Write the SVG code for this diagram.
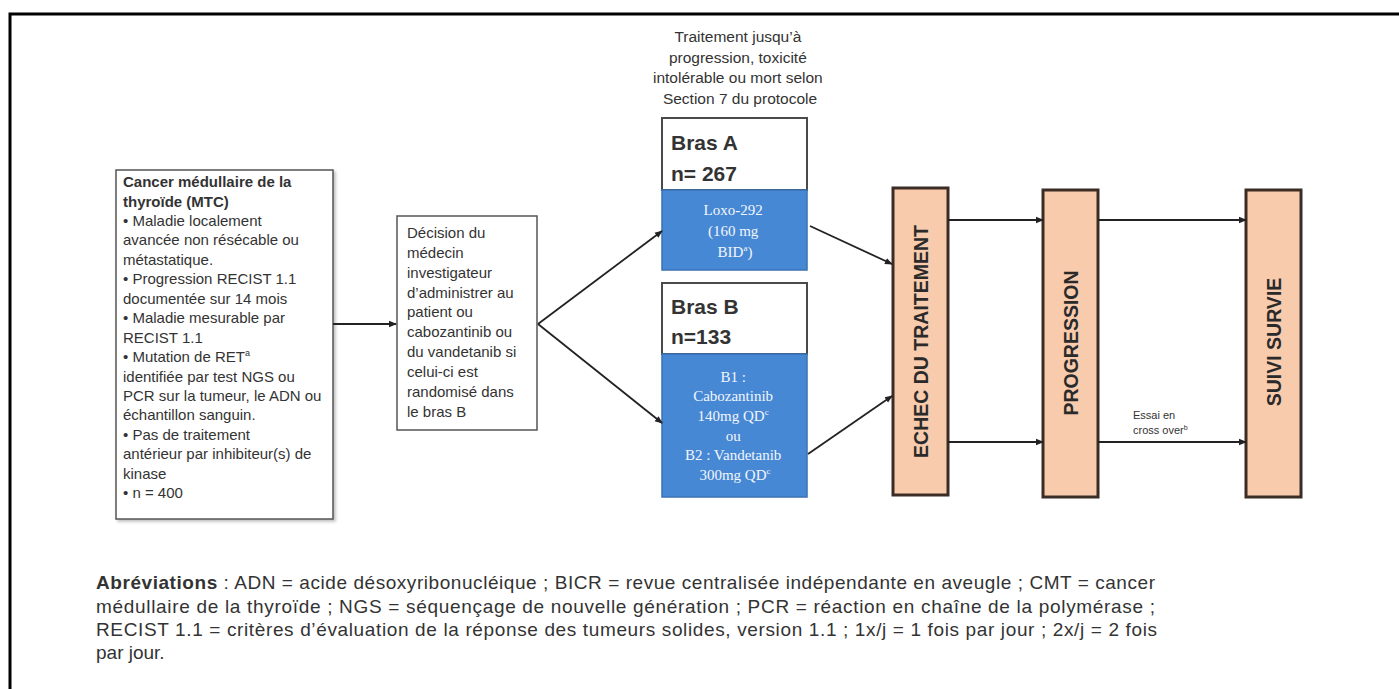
<svg xmlns="http://www.w3.org/2000/svg" width="1399" height="689" viewBox="0 0 1399 689">
<style>
  .t { font-family: "Liberation Sans", Arial, sans-serif; fill: #333333; }
  .b { font-weight: bold; }
  .box { fill: #ffffff; stroke: #555555; stroke-width: 1.5; }
  .hdr { fill: #ffffff; stroke: #4a4a4a; stroke-width: 2; }
  .blue { fill: #4788d4; stroke: #3a72b4; stroke-width: 1.5; }
  .bt { font-family: "Liberation Serif", "Times New Roman", serif; fill: #f2f6fc; font-size: 15px; text-anchor: middle; }
  .peach { fill: #f8cbad; stroke: #3b2d25; stroke-width: 3; }
  .vt { font-family: "Liberation Sans", Arial, sans-serif; font-weight: bold; font-size: 19.5px; fill: #2a2a2a; text-anchor: middle; dominant-baseline: central; }
  .ln { stroke: #222222; stroke-width: 1.8; fill: none; marker-end: url(#ah); }
</style>
<defs>
  <marker id="ah" markerWidth="8" markerHeight="8" refX="7" refY="4" orient="auto" markerUnits="userSpaceOnUse">
    <path d="M0,0.8 L8,4 L0,7.2 Z" fill="#222222"/>
  </marker>
  <filter id="sh" x="-5%" y="-5%" width="115%" height="115%">
    <feDropShadow dx="2" dy="2" stdDeviation="1.5" flood-color="#000000" flood-opacity="0.25"/>
  </filter>
</defs>
<rect x="0" y="0" width="1399" height="689" fill="#ffffff"/>
<path d="M10,689 V14 H1399" fill="none" stroke="#000000" stroke-width="3"/>

<g id="caption">
  <text class="t" font-size="15.5" text-anchor="middle">
    <tspan x="740" y="42">Traitement jusqu’à</tspan>
    <tspan x="740" y="62.5">progression, toxicité</tspan>
    <tspan x="740" y="83">intolérable ou mort selon</tspan>
    <tspan x="740" y="103.5">Section 7 du protocole</tspan>
  </text>
</g>

<g id="mtc">
  <rect class="box" x="116" y="170" width="217" height="349" stroke="#777777" filter="url(#sh)"/>
  <text class="t" font-size="15">
    <tspan x="123" y="187" class="b">Cancer médullaire de la</tspan>
    <tspan x="123" y="206.5" class="b">thyroïde (MTC)</tspan>
    <tspan x="123" y="226">• Maladie localement</tspan>
    <tspan x="123" y="245.3">avancée non résécable ou</tspan>
    <tspan x="123" y="264.8">métastatique.</tspan>
    <tspan x="123" y="284.2">• Progression RECIST 1.1</tspan>
    <tspan x="123" y="303.7">documentée sur 14 mois</tspan>
    <tspan x="123" y="323.1">• Maladie mesurable par</tspan>
    <tspan x="123" y="342.6">RECIST 1.1</tspan>
    <tspan x="123" y="362">• Mutation de RET<tspan font-size="9" dy="-6">a</tspan></tspan>
    <tspan x="123" y="381.5">identifiée par test NGS ou</tspan>
    <tspan x="123" y="401">PCR sur la tumeur, le ADN ou</tspan>
    <tspan x="123" y="420.4">échantillon sanguin.</tspan>
    <tspan x="123" y="439.8">• Pas de traitement</tspan>
    <tspan x="123" y="459.3">antérieur par inhibiteur(s) de</tspan>
    <tspan x="123" y="478.7">kinase</tspan>
    <tspan x="123" y="498.2">• n = 400</tspan>
  </text>
</g>

<g id="decision">
  <rect class="box" x="397" y="216" width="140" height="214"/>
  <text class="t" font-size="15">
    <tspan x="407" y="238">Décision du</tspan>
    <tspan x="407" y="257.9">médecin</tspan>
    <tspan x="407" y="277.7">investigateur</tspan>
    <tspan x="407" y="297.6">d’administrer au</tspan>
    <tspan x="407" y="317.4">patient ou</tspan>
    <tspan x="407" y="337.3">cabozantinib ou</tspan>
    <tspan x="407" y="357.1">du vandetanib si</tspan>
    <tspan x="407" y="377">celui-ci est</tspan>
    <tspan x="407" y="396.8">randomisé dans</tspan>
    <tspan x="407" y="416.7">le bras B</tspan>
  </text>
</g>

<g id="brasA">
  <rect class="hdr" x="662" y="118" width="145" height="72"/>
  <text class="t b" font-size="21" x="671" y="150">Bras A</text>
  <text class="t b" font-size="21" x="671" y="181">n= 267</text>
  <rect class="blue" x="662" y="190" width="145" height="80"/>
  <text class="bt">
    <tspan x="735" y="215">Loxo-292</tspan>
    <tspan x="735" y="236">(160 mg</tspan>
    <tspan x="735" y="257">BID<tspan font-size="9" dy="-6">a</tspan><tspan dy="6">)</tspan></tspan>
  </text>
</g>

<g id="brasB">
  <rect class="hdr" x="662" y="283" width="145" height="71"/>
  <text class="t b" font-size="21" x="671" y="314">Bras B</text>
  <text class="t b" font-size="21" x="671" y="344">n=133</text>
  <rect class="blue" x="662" y="354" width="145" height="143"/>
  <text class="bt">
    <tspan x="735" y="382">B1 :</tspan>
    <tspan x="735" y="401">Cabozantinib</tspan>
    <tspan x="735" y="421">140mg QD<tspan font-size="9" dy="-6">c</tspan></tspan>
    <tspan x="735" y="441">ou</tspan>
    <tspan x="735" y="460">B2 : Vandetanib</tspan>
    <tspan x="735" y="480">300mg QD<tspan font-size="9" dy="-6">c</tspan></tspan>
  </text>
</g>

<g id="echec">
  <rect class="peach" x="893" y="188" width="55" height="307"/>
  <text class="vt" transform="translate(920.5,341.5) rotate(-90)" x="0" y="0">ECHEC DU TRAITEMENT</text>
</g>

<g id="progression">
  <rect class="peach" x="1043" y="190" width="55" height="307"/>
  <text class="vt" transform="translate(1070.5,343) rotate(-90)" x="0" y="0">PROGRESSION</text>
</g>

<g id="suivi">
  <rect class="peach" x="1246" y="190" width="55" height="307"/>
  <text class="vt" transform="translate(1273.5,342) rotate(-90)" x="0" y="0">SUIVI SURVIE</text>
</g>

<g id="connectors">
  <line class="ln" x1="333" y1="324" x2="396" y2="324"/>
  <line class="ln" x1="538" y1="324" x2="662" y2="231"/>
  <line class="ln" x1="538" y1="324" x2="662" y2="423"/>
  <line class="ln" x1="810" y1="226" x2="892" y2="264"/>
  <line class="ln" x1="808" y1="454" x2="892" y2="396"/>
  <line class="ln" x1="948" y1="220" x2="1043" y2="220"/>
  <line class="ln" x1="948" y1="442" x2="1043" y2="442"/>
  <line class="ln" x1="1098" y1="220" x2="1246" y2="220"/>
  <line class="ln" x1="1098" y1="442" x2="1246" y2="442"/>
  <text class="t" font-size="11">
    <tspan x="1133" y="419">Essai en</tspan>
    <tspan x="1133" y="434">cross over<tspan font-size="7" dy="-4">b</tspan></tspan>
  </text>
</g>

<g id="abbreviations">
  <text class="t" font-size="19" fill="#333333">
    <tspan x="96" y="589" textLength="1059" lengthAdjust="spacing"><tspan class="b">Abréviations</tspan> :  ADN = acide désoxyribonucléique ; BICR = revue centralisée indépendante en aveugle ; CMT = cancer</tspan>
    <tspan x="96" y="613" textLength="1059" lengthAdjust="spacing">médullaire de la thyroïde ; NGS = séquençage de nouvelle génération ; PCR = réaction en chaîne de la polymérase  ;</tspan>
    <tspan x="96" y="636" textLength="1061" lengthAdjust="spacing">RECIST 1.1 = critères d’évaluation de la réponse des tumeurs solides, version 1.1  ; 1x/j = 1 fois par jour ; 2x/j = 2 fois</tspan>
    <tspan x="96" y="659">par jour.</tspan>
  </text>
</g>
</svg>
